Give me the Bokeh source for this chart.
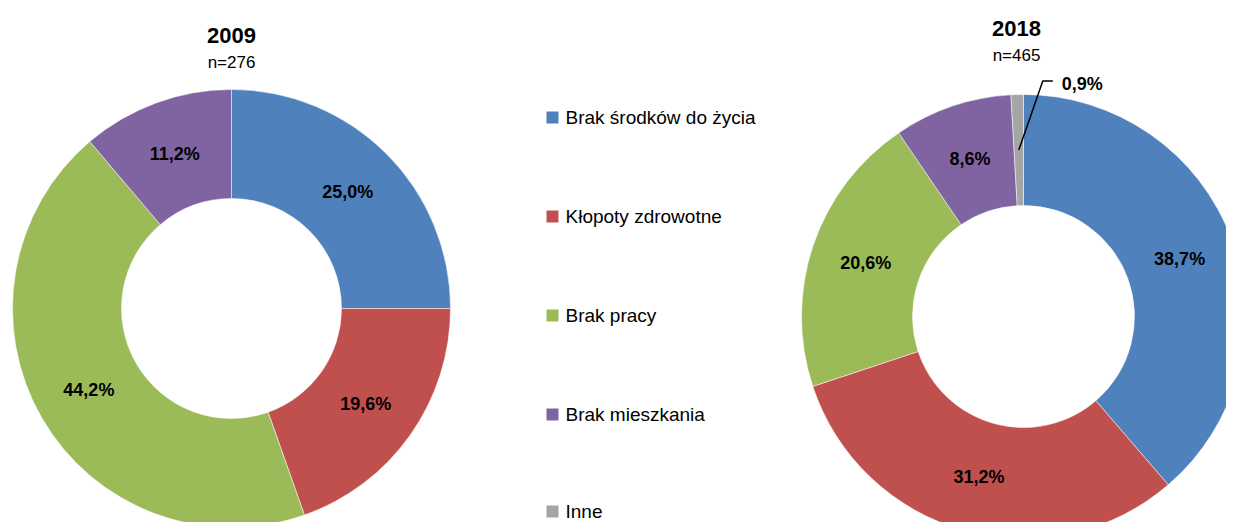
import math
from bokeh.plotting import figure
from bokeh.models import Range1d, ColumnDataSource
from bokeh.core.properties import value
from bokeh.embed import file_html
from bokeh.resources import INLINE

categories = ["Brak środków do życia", "Kłopoty zdrowotne", "Brak pracy", "Brak mieszkania", "Inne"]
colors = ["#4F81BD", "#C0504D", "#9BBB59", "#8064A2", "#A5A5A5"]
values_2009 = [25.0, 19.6, 44.2, 11.2, 0.0]
values_2018 = [38.7, 31.2, 20.6, 8.6, 0.9]
titles = ["2009", "2018"]
counts = ["n=276", "n=465"]

W, H = 1226, 522
FONT = "Liberation Sans"

p = figure(width=W, height=H, output_backend="svg", toolbar_location=None,
           x_range=Range1d(0, W), y_range=Range1d(0, H), min_border=0)
p.axis.visible = False
p.grid.visible = False
p.outline_line_color = None
p.background_fill_color = "white"
p.border_fill_color = "white"


def px(X, Y):
    return X, H - Y


def donut(vals, cx, cy, R, r):
    total = sum(vals)
    cum = 0.0
    rows = dict(x=[], y=[], s=[], e=[], c=[])
    labs = dict(x=[], y=[], t=[])
    small = None
    for v, c in zip(vals, colors):
        if v <= 0:
            continue
        a0 = math.pi / 2 - 2 * math.pi * cum / total
        a1 = math.pi / 2 - 2 * math.pi * (cum + v) / total
        rows["x"].append(cx); rows["y"].append(cy)
        rows["s"].append(a0); rows["e"].append(a1); rows["c"].append(c)
        mid = (a0 + a1) / 2
        lr = (R + r) / 2
        lx, ly = cx + lr * math.cos(mid), cy + lr * math.sin(mid)
        txt = f"{v:.1f}%".replace(".", ",")
        if v < 3:
            small = (lx, ly, txt)
        else:
            labs["x"].append(lx); labs["y"].append(ly); labs["t"].append(txt)
        cum += v
    p.annular_wedge(x="x", y="y", inner_radius=r, outer_radius=R, start_angle="s",
                    end_angle="e", direction="clock", fill_color="c", line_color="white",
                    line_width=0.5, inner_radius_units="screen", outer_radius_units="screen",
                    source=ColumnDataSource(rows))
    p.text(x="x", y="y", text="t", source=ColumnDataSource(labs), text_align="center",
           text_baseline="middle", text_font=value(FONT), text_font_style="bold",
           text_font_size="18px", text_color="black")
    return small


cx1, cy1 = px(231, 308)
cx2, cy2 = px(1023, 316)
donut(values_2009, cx1, cy1, 219, 110)
small = donut(values_2018, cx2, cy2, 222, 111)

if small is not None:
    sx, sy, st = small
    kx, ky = sx + 24, sy + 69
    ex, ey = kx + 10, ky
    p.line(x=[sx, kx, ex], y=[sy, ky, ey], line_color="black", line_width=1.5)
    p.text(x=[ex + 9], y=[ey - 3], text=[st], text_align="left", text_baseline="middle",
           text_font=value(FONT), text_font_style="bold", text_font_size="18px",
           text_color="black")

# titles
tx1, ty1 = px(231, 35)
nx1, ny1 = px(231, 62)
tx2, ty2 = px(1016, 28)
nx2, ny2 = px(1016, 55)
p.text(x=[tx1, tx2], y=[ty1, ty2], text=titles, text_align="center", text_baseline="middle",
       text_font=value(FONT), text_font_style="bold", text_font_size="22px", text_color="black")
p.text(x=[nx1, nx2], y=[ny1, ny2], text=counts, text_align="center", text_baseline="middle",
       text_font=value(FONT), text_font_size="17px", text_color="black")

# legend
lx, _ = px(552, 0)
ltx, _ = px(565, 0)
ys = [px(0, Y)[1] for Y in [117, 216, 315, 414, 511]]
p.scatter(x=[lx] * len(categories), y=ys, marker="square", size=12, fill_color=colors,
          line_color=None)
p.text(x=[ltx] * len(categories), y=ys, text=categories, text_align="left",
       text_baseline="middle", text_font=value(FONT), text_font_size="19px", text_color="black")

open("out.html", "w").write(file_html(p, INLINE))
